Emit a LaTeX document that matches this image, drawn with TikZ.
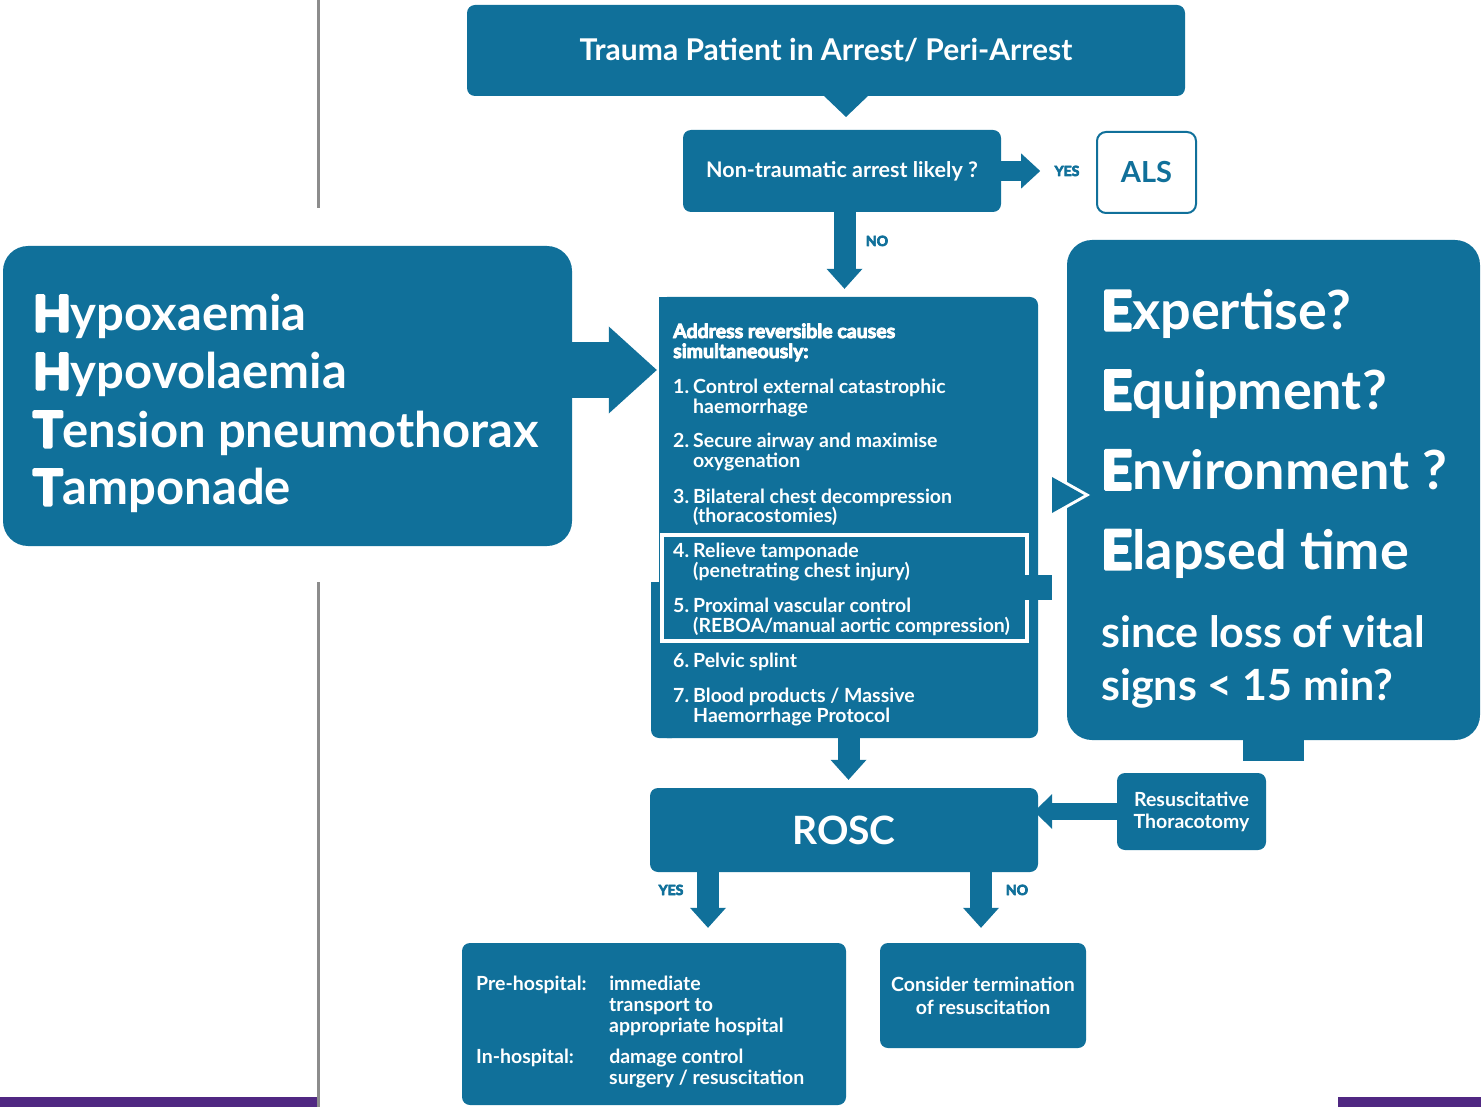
\documentclass[tikz,border=0pt]{standalone}
\usepackage{fontspec}
\setmainfont{Lato}
\usetikzlibrary{arrows.meta,calc}
\definecolor{tbblue}{RGB}{16,112,154}
\definecolor{tbpurple}{RGB}{80,40,130}
\definecolor{tbgray}{RGB}{140,140,140}
% heavier weight: glyphs filled and stroked
\newcommand{\thick}[2]{\special{pdf:literal direct 2 Tr 1 j #1 w}#2\special{pdf:literal direct 0 Tr 0 j}}
\newcommand{\Hv}[1]{\thick{3}{#1}}
\newcommand{\rowstrut}[2]{\setbox\strutbox\hbox{\vrule height #1 depth #2 width 0pt}}
\tikzset{
  box/.style={fill=tbblue, rounded corners=8pt, inner sep=0pt, text=white, align=center},
  txt/.style={text=white, inner sep=0pt},
  lbl/.style={text=tbblue, font=\bfseries\fontsize{14}{14}\selectfont, inner sep=0pt, anchor=base},
  flow/.style n args={3}{draw=tbblue, line width=#1, -{Triangle[width=#2, length=#3, line width=0pt, fill=tbblue]}},
}

\begin{document}
\begin{tikzpicture}[x=1pt,y=-1pt]
\useasboundingbox (0,0) rectangle (1481,1107);

% page decoration
\draw[tbgray, line width=2.5pt] (318.5,0) -- (318.5,208);
\draw[tbgray, line width=2.5pt] (318.5,582) -- (318.5,1107);
\fill[tbpurple] (0,1097) rectangle (317,1107);
\fill[tbpurple] (1338,1097) rectangle (1481,1107);

% boxes
\node[box, minimum width=718pt, minimum height=91pt, font=\bfseries\fontsize{30}{30}\selectfont] (top) at (826,50.5) {Trauma Patient in Arrest/ Peri-Arrest};
\fill[tbblue] (823,95) -- (869,95) -- (846,117) -- cycle;

\node[box, minimum width=318pt, minimum height=82pt, font=\bfseries\fontsize{21.5}{21.5}\selectfont] (nontr) at (842,171) {Non-traumatic arrest likely ?};
\node[box, fill=white, draw=tbblue, line width=2pt, rounded corners=9pt, text=tbblue, minimum width=99pt, minimum height=81pt, font=\bfseries\fontsize{29}{29}\selectfont] (als) at (1146.5,172.5) {ALS};

\node[box, rounded corners=25pt, minimum width=569pt, minimum height=300pt] (hhtt) at (287.5,396) {};
\node[txt, anchor=base west, font=\bfseries\fontsize{49}{58}\selectfont] (hhtttxt) at (33,331) {%
  \begin{tabular}[t]{@{}l@{}}
  \Hv{H}ypoxaemia\\
  \Hv{H}ypovolaemia\\
  \Hv{T}ension pneumothorax\\
  \Hv{T}amponade
  \end{tabular}};

% reversible causes
\node[box, minimum width=379pt, minimum height=441pt] (causes) at (848.5,517.5) {};
\fill[tbblue] (659,297) rectangle (672,310);
\fill[tbblue, rounded corners=8pt] (651,582) rectangle (680,738);
\fill[tbblue] (651,582) rectangle (665,596);
\draw[white, line width=4pt] (662,535) rectangle (1027,641);
\fill[tbblue] (1025,575) rectangle (1052,600);
\node[txt, anchor=base west, font=\bfseries\fontsize{19.5}{20}\selectfont] (causestxt) at (673,338) {%
  \rowstrut{16pt}{4pt}%
  \begin{tabular}[t]{@{}p{20pt}@{}l@{}}
  \multicolumn{2}{@{}l@{}}{\thick{0.9}{Address reversible causes}}\\
  \multicolumn{2}{@{}l@{}}{\thick{0.9}{simultaneously:}}\\[15pt]
  1. & Control external catastrophic\\
     & haemorrhage\\[15pt]
  2. & Secure airway and maximise\\
     & oxygenation\\[15pt]
  3. & Bilateral chest decompression\\
     & (thoracostomies)\\[15pt]
  4. & Relieve tamponade\\
     & (penetrating chest injury)\\[15pt]
  5. & Proximal vascular control\\
     & (REBOA/manual aortic compression)\\[15pt]
  6. & Pelvic splint\\[15pt]
  7. & Blood products / Massive\\
     & Haemorrhage Protocol
  \end{tabular}};

% the four E
\node[box, rounded corners=25pt, minimum width=413pt, minimum height=500pt] (eeee) at (1273.5,490) {};
\fill[tbblue] (1243,738) rectangle (1304,761);
\draw[white, line width=6pt, line join=miter] (1052,477) -- (1084,495) -- (1052,513);
\fill[tbblue] (1052,477) -- (1084,495) -- (1052,513) -- cycle;
\node[txt, anchor=base west, font=\bfseries\fontsize{54}{79.7}\selectfont] (eeeetxt) at (1101,330) {%
  \begin{tabular}[t]{@{}l@{}}
  \Hv{E}xpertise?\\
  \Hv{E}quipment?\\
  \Hv{E}nvironment ?\\
  \Hv{E}lapsed time
  \end{tabular}};
\node[txt, anchor=base west, font=\bfseries\fontsize{43}{53}\selectfont] (vitaltxt) at (1101,647) {%
  \begin{tabular}[t]{@{}l@{}}
  since loss of vital\\
  signs < 15 min?
  \end{tabular}};

% outcome
\node[box, minimum width=388pt, minimum height=84pt, font=\bfseries\fontsize{39}{39}\selectfont] (rosc) at (844,830) {ROSC};
\node[box, minimum width=149pt, minimum height=77pt, font=\bfseries\fontsize{19.5}{22}\selectfont] (rt) at (1191.5,811.5) {Resuscitative\\Thoracotomy};
\node[box, minimum width=384pt, minimum height=162pt] (pre) at (654,1024) {};
\node[txt, anchor=base west, font=\bfseries\fontsize{19.5}{21}\selectfont] (pretxt) at (476,990) {%
  \rowstrut{16pt}{5pt}%
  \begin{tabular}[t]{@{}p{133pt}@{}l@{}}
  Pre-hospital: & immediate\\
                & transport to\\
                & appropriate hospital\\[10pt]
  In-hospital:  & damage control\\
                & surgery / resuscitation
  \end{tabular}};
\node[box, minimum width=206pt, minimum height=105pt, font=\bfseries\fontsize{19.5}{23}\selectfont] (cons) at (983,995.5) {Consider termination\\of resuscitation};

% arrows
\coordinate (ay) at (0,370);
\coordinate (yx) at (708,0);
\draw[flow={20pt}{35pt}{19pt}] (nontr.east) -- ++(39,0);
\draw[flow={22pt}{36pt}{20pt}, shorten >=8pt] ([xshift=2.5pt]nontr.south) -- ([xshift=2.5pt]nontr.south |- causes.north);
\draw[flow={56pt}{87pt}{48pt}, shorten >=2pt] (hhtt.east |- ay) -- (causes.west |- ay);
\draw[flow={22pt}{36pt}{20pt}, shorten >=8pt] (causes.south) -- (causes.south |- rosc.north);
\draw[flow={17pt}{35pt}{18pt}, shorten >=-4pt] (rt.west) -- (rosc.east |- rt.west);
\draw[flow={22pt}{36pt}{20pt}, shorten >=15pt] (rosc.south -| yx) -- (pre.north -| yx);
\draw[flow={22pt}{36pt}{20pt}, shorten >=15pt] ([xshift=-2pt]rosc.south -| cons.north) -- ([xshift=-2pt]cons.north);

% labels
\node[lbl] (yes1) at (1067,176) {\thick{0.7}{YES}};
\node[lbl] (no1) at (877,246) {\thick{0.7}{NO}};
\node[lbl] (yes2) at (671,895) {\thick{0.7}{YES}};
\node[lbl] (no2) at (1017,895) {\thick{0.7}{NO}};
\end{tikzpicture}
\end{document}
